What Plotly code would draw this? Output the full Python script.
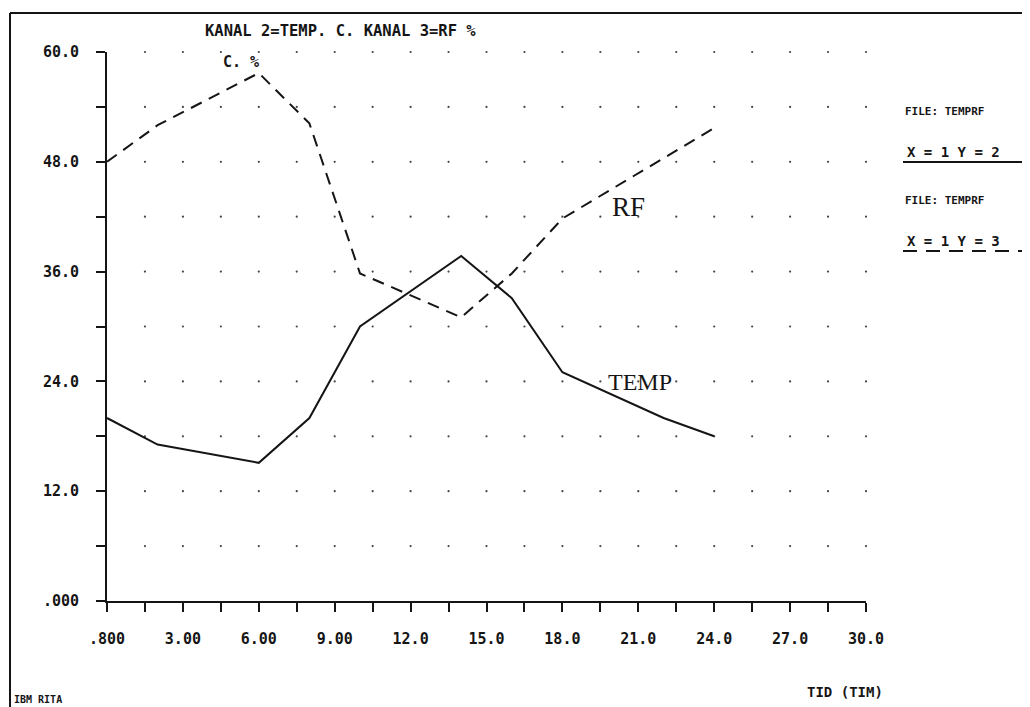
import plotly.graph_objects as go

# ---- data ----
hours_temp = [0, 2, 6, 8, 10, 14, 16, 18, 22, 24]
temp_c = [20.0, 17.1, 15.1, 20.0, 30.0, 37.7, 33.1, 25.0, 20.0, 18.0]

hours_rf = [0, 2, 6, 8, 10, 14, 16, 18, 24]
rf_pct = [48.0, 52.0, 57.7, 52.2, 35.8, 31.0, 35.8, 41.8, 51.7]

x_tick_vals = [0, 3, 6, 9, 12, 15, 18, 21, 24, 27, 30]
x_tick_text = [".800", "3.00", "6.00", "9.00", "12.0", "15.0", "18.0", "21.0", "24.0", "27.0", "30.0"]
y_tick_vals = [0, 12, 24, 36, 48, 60]
y_tick_text = [".000", "12.0", "24.0", "36.0", "48.0", "60.0"]

OFF = 8  # page body margin
W, H = 1030 - OFF, 707 - OFF
INK = "#151515"
MONO = "DejaVu Sans Mono"
WEIGHT = "bold"


def px(x):
    return (x - OFF) / W


def py(y):
    return 1 - (y - OFF) / H


fig = go.Figure()

# dotted grid at the minor tick positions
gx, gy = [], []
for i in range(1, 21):
    for j in range(1, 11):
        gx.append(1.5 * i)
        gy.append(6 * j)
fig.add_trace(go.Scatter(x=gx, y=gy, mode="markers",
                         marker=dict(size=2.2, color="#444"),
                         hoverinfo="skip", cliponaxis=False, showlegend=False))

fig.add_trace(go.Scatter(x=hours_temp, y=temp_c, mode="lines", name="TEMP",
                         line=dict(color=INK, width=2), showlegend=False,
                         cliponaxis=False))
fig.add_trace(go.Scatter(x=hours_rf, y=rf_pct, mode="lines", name="RF",
                         line=dict(color=INK, width=2, dash="12px,8px"),
                         showlegend=False, cliponaxis=False))

fig.update_xaxes(
    range=[0, 30], domain=[px(107), px(866)],
    showline=True, linecolor=INK, linewidth=2,
    showgrid=False, zeroline=False, automargin=False,
    tickmode="array", tickvals=x_tick_vals, ticktext=x_tick_text,
    ticks="outside", ticklen=9, tickwidth=2, tickcolor=INK,
    minor=dict(dtick=1.5, tick0=0, ticks="outside", ticklen=9, tickwidth=2,
               tickcolor=INK, showgrid=False),
    ticklabelstandoff=14,
    tickfont=dict(family=MONO, size=15, color=INK, weight=WEIGHT),
)
fig.update_yaxes(
    range=[0, 60], domain=[py(601), py(52)],
    showline=True, linecolor=INK, linewidth=2,
    showgrid=False, zeroline=False, automargin=False,
    tickmode="array", tickvals=y_tick_vals, ticktext=y_tick_text,
    ticks="outside", ticklen=9, tickwidth=2, tickcolor=INK,
    minor=dict(dtick=6, tick0=0, ticks="outside", ticklen=9, tickwidth=2,
               tickcolor=INK, showgrid=False),
    ticklabelstandoff=14,
    tickfont=dict(family=MONO, size=15, color=INK, weight=WEIGHT),
)

ann = []


def text(x, y, s, size, family=MONO, xanchor="center", weight=WEIGHT):
    ann.append(dict(x=px(x), y=py(y), xref="paper", yref="paper", text=s,
                    showarrow=False, xanchor=xanchor, yanchor="middle",
                    font=dict(family=family, size=size, color=INK, weight=weight)))


text(340, 31, "KANAL 2=TEMP. C. KANAL 3=RF %", 15.5)
text(241, 62, "C. %", 15)
text(845, 692, "TID (TIM)", 14)
text(12, 699, "IBM RITA", 10, xanchor="left")
text(903, 111, "FILE: TEMPRF", 11, xanchor="left")
text(905, 152, "X = 1 Y = 2", 14, xanchor="left")
text(903, 200, "FILE: TEMPRF", 11, xanchor="left")
text(905, 241, "X = 1 Y = 3", 14, xanchor="left")
text(628, 207, "RF", 27, family="Liberation Serif", weight="normal")
text(640, 382, "TEMP", 24, family="Liberation Serif", weight="normal")

shapes = [
    # frame
    dict(type="line", xref="paper", yref="paper", x0=px(10), x1=px(1030),
         y0=py(13), y1=py(13), line=dict(color=INK, width=2)),
    dict(type="line", xref="paper", yref="paper", x0=px(10), x1=px(10),
         y0=py(13), y1=py(707), line=dict(color=INK, width=2)),
    # legend samples
    dict(type="line", xref="paper", yref="paper", x0=px(903), x1=px(1025),
         y0=py(162), y1=py(162), line=dict(color=INK, width=2)),
    dict(type="line", xref="paper", yref="paper", x0=px(903), x1=px(1025),
         y0=py(251), y1=py(251), line=dict(color=INK, width=2, dash="14px,9px")),
]

fig.update_layout(
    width=W, height=H,
    margin=dict(l=0, r=0, t=0, b=0, autoexpand=False),
    paper_bgcolor="white", plot_bgcolor="white",
    annotations=ann, shapes=shapes, showlegend=False,
)

fig.write_html("out.html")
